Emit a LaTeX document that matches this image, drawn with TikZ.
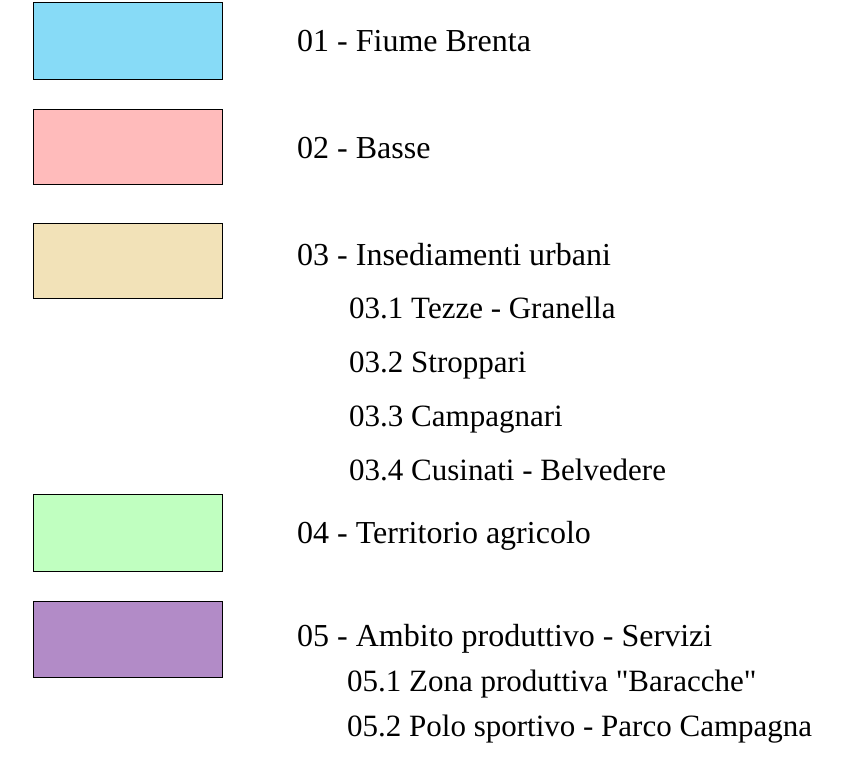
\documentclass[tikz,border=0pt]{standalone}
\usepackage{fontspec}
\setmainfont{Liberation Serif}[Ligatures=TeXOff]
\definecolor{cblue}{RGB}{135,219,247}
\definecolor{cpink}{RGB}{255,187,187}
\definecolor{ctan}{RGB}{242,226,184}
\definecolor{cgreen}{RGB}{192,255,192}
\definecolor{cpurple}{RGB}{178,139,199}
\begin{document}
\begin{tikzpicture}[x=1pt,y=-1pt,
  swatch/.style={draw=black,line width=1pt,fill=#1},
  lbl/.style={anchor=base west,inner sep=0pt,font=\fontsize{32}{38}\selectfont},
  sublbl/.style={anchor=base west,inner sep=0pt,font=\fontsize{31}{37}\selectfont}]
\useasboundingbox (0,0) rectangle (843,768);
\filldraw[swatch=cblue] (33,3) rectangle (222,79);
\filldraw[swatch=cpink] (33,109) rectangle (222,184);
\filldraw[swatch=ctan] (33,223) rectangle (222,298);
\filldraw[swatch=cgreen] (33,494) rectangle (222,571);
\filldraw[swatch=cpurple] (33,601) rectangle (222,677);
\node[lbl] (l1) at (297,52) {01 - Fiume Brenta};
\node[lbl] (l2) at (297,158) {02 - Basse};
\node[lbl] (l3) at (297,265) {03 - Insediamenti urbani};
\node[sublbl] (l31) at (349,318) {03.1 Tezze - Granella};
\node[sublbl] (l32) at (349,372) {03.2 Stroppari};
\node[sublbl] (l33) at (349,426) {03.3 Campagnari};
\node[sublbl] (l34) at (349,480) {03.4 Cusinati - Belvedere};
\node[lbl] (l4) at (297,543) {04 - Territorio agricolo};
\node[lbl] (l5) at (297,646) {05 - Ambito produttivo - Servizi};
\node[sublbl] (l51) at (347,691) {05.1 Zona produttiva "Baracche"};
\node[sublbl] (l52) at (347,736) {05.2 Polo sportivo - Parco Campagna};
\end{tikzpicture}
\end{document}
